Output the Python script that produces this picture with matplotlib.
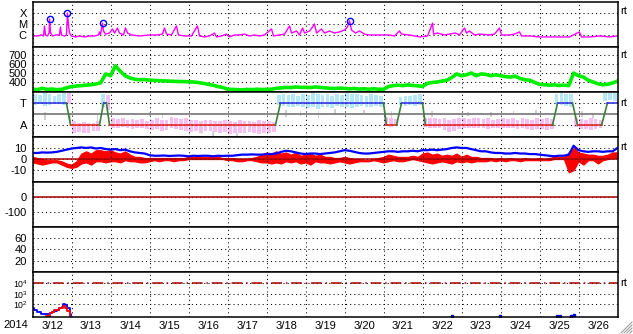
import numpy as np
import matplotlib
matplotlib.use('Agg')
import matplotlib.pyplot as plt
from matplotlib.lines import Line2D

plt.rcParams['font.family'] = ['Liberation Sans', 'DejaVu Sans']
plt.rcParams['mathtext.fontset'] = 'custom'
plt.rcParams['mathtext.rm'] = 'Liberation Sans'
plt.rcParams['mathtext.it'] = 'Liberation Sans'
plt.rcParams['font.size'] = 8

# all times are hours since 2014-03-12 00:00 UT
day_labels = ['3/12', '3/13', '3/14', '3/15', '3/16', '3/17', '3/18', '3/19',
              '3/20', '3/21', '3/22', '3/23', '3/24', '3/25', '3/26']

# --- X-ray flux (W/m2)
xray_hours = [0, 3.1, 5.5, 6.8, 7.4, 8.0, 9.2, 10.2, 10.5, 11.1, 12.3, 14.2, 16.6, 17.2, 17.8,
              19.7, 20.9, 21.5, 22.2, 22.8, 24, 26.5, 28.9, 32, 35.1, 38.2, 40.6, 41.2, 41.8,
              43.1, 43.7, 44.9, 47.4, 49.2, 50.5, 52.3, 53.5, 56, 57.2, 58.5, 60.9, 65.8, 72,
              76.9, 80, 81.2, 82.5, 85.5, 88.6, 89.8, 93.5, 97.8, 101.5, 102.8, 105.8, 108.9,
              112, 113.2, 116.3, 119.4, 121.2, 124.3, 127.4, 130.5, 133.5, 136.6, 139.7, 142.8,
              147.1, 148.3, 152, 155.1, 158.2, 159.4, 162.5, 164.3, 166.2, 167.4, 170.5, 172.3,
              173.5, 174.8, 177.8, 179.7, 182.8, 185.8, 188.9, 192, 193.8, 195.1, 196.3, 198.8,
              201.2, 204.3, 207.4, 213.5, 219.7, 222.8, 225.8, 227.1, 232, 235.1, 238.2, 243.1,
              246.2, 246.8, 249.2, 253.5, 256.6, 260.3, 262.8, 265.8, 267.1, 268.9, 272, 275.1,
              281.2, 284.3, 287.4, 288.6, 293.5, 296.6, 299.7, 300.9, 305.8, 312, 318.2, 324.3,
              330.5, 336.6, 337.8, 342.8, 348.9, 355.1, 360]
xray_flux = [8.1e-7, 8.1e-7, 1.0e-6, 8.1e-7, 6.6e-6, 1.0e-6, 8.1e-7, 1.5e-6, 2.8e-5, 1.5e-6,
             8.1e-7, 1.0e-6, 1.0e-6, 5.3e-6, 1.0e-6, 8.1e-7, 1.0e-6, 1.0e-4, 6.6e-6, 1.5e-6,
             8.1e-7, 6.6e-7, 8.1e-7, 6.6e-7, 8.1e-7, 8.1e-7, 1.0e-6, 1.9e-6, 1.0e-6, 1.2e-5,
             2.3e-6, 1.2e-6, 1.5e-6, 3.5e-6, 1.5e-6, 4.3e-6, 1.5e-6, 1.0e-6, 4.3e-6, 1.5e-6,
             1.0e-6, 8.1e-7, 1.0e-6, 1.0e-6, 1.2e-6, 4.3e-6, 1.2e-6, 1.0e-6, 6.6e-6, 1.0e-6,
             8.1e-7, 8.1e-7, 6.6e-6, 8.1e-7, 6.6e-7, 8.1e-7, 1.5e-6, 6.6e-7, 8.1e-7, 1.2e-6,
             6.6e-7, 1.0e-6, 1.0e-6, 1.2e-6, 8.1e-7, 1.0e-6, 8.1e-7, 1.0e-6, 3.5e-6, 8.1e-7,
             1.0e-6, 1.2e-6, 6.6e-6, 1.5e-6, 2.3e-6, 1.0e-6, 4.3e-6, 1.5e-6, 2.3e-6, 5.3e-6,
             1.0e-5, 1.5e-6, 3.5e-6, 1.5e-6, 2.3e-6, 1.5e-6, 1.9e-6, 2.8e-6, 5.3e-6, 1.9e-5,
             2.8e-6, 1.5e-6, 2.3e-6, 1.2e-6, 1.0e-6, 1.0e-6, 1.0e-6, 8.1e-7, 2.3e-6, 1.2e-6,
             1.0e-6, 8.1e-7, 6.6e-7, 8.1e-7, 1.2e-5, 1.2e-6, 1.5e-6, 1.0e-6, 1.2e-6, 1.5e-6,
             1.0e-6, 4.3e-6, 1.5e-6, 2.3e-6, 1.0e-6, 1.2e-6, 1.0e-6, 1.2e-6, 4.3e-6, 1.0e-6,
             1.0e-6, 1.2e-6, 1.9e-6, 8.1e-7, 8.1e-7, 6.6e-7, 6.6e-7, 6.6e-7, 6.6e-7, 1.9e-6,
             6.6e-7, 6.6e-7, 8.1e-7, 6.6e-7, 8.1e-7]
flare_hours = [10.5, 21.5, 43.1, 195.1]
flare_flux = [2.8e-5, 1.0e-4, 1.2e-5, 1.9e-5]

# --- solar wind speed (km/s), every 3 hours
speed = [320, 315, 330, 318, 322, 315, 318, 335,
         350, 355, 360, 365, 370, 378, 392, 490,
         470, 580, 520, 470, 445, 430, 425, 428,
         420, 418, 415, 412, 410, 408, 405, 405,
         402, 400, 395, 385, 375, 365, 350, 340,
         320, 318, 315, 312, 318, 315, 320, 316,
         318, 320, 330, 335, 340, 338, 345, 340,
         342, 338, 345, 340, 335, 330, 328, 332,
         330, 325, 328, 322, 325, 320, 325, 320,
         318, 350, 360, 365, 360, 368, 362, 358,
         350, 385, 395, 400, 410, 420, 450, 490,
         470, 480, 500, 470, 490, 485, 470, 480,
         470, 460, 455, 465, 440, 425, 420, 395,
         375, 370, 365, 368, 362, 365, 360, 500,
         470, 455, 420, 400, 380, 370, 375, 390,
         410]

# --- IMF sector (T = toward, A = away) and field angle phi (deg)
sector_hours = [0, 20.9, 23.4, 41.2, 43.7, 45.5, 47.4, 149.5, 152.6, 216, 217.8, 224, 227.1,
                240, 241.8, 320, 323.1, 332.3, 335.4, 350.2, 353.8, 360]
sector_side = ['T', 'T', 'A', 'A', 'T', 'T', 'A', 'A', 'T', 'T', 'A', 'A', 'T',
               'T', 'A', 'A', 'T', 'T', 'A', 'A', 'T', 'T']
phi_hi = [390, 380, 395, 385, 370, 390, 400, 400,
          165, 150, 160, 155, 150, 170, 390, 380,
          190, 185, 190, 180, 185, 175, 185, 170,
          180, 190, 175, 180, 200, 190, 185, 195,
          180, 175, 170, 180, 175, 170, 165, 175,
          170, 160, 175, 165, 170, 160, 175, 165,
          170, 160, 380, 390, 380, 385, 375, 390,
          380, 395, 385, 380, 390, 375, 385, 380,
          395, 390, 385, 380, 370, 385, 380, 375,
          200, 190, 185, 360, 370, 375, 380, 385,
          195, 195, 190, 185, 190, 180, 185, 190,
          190, 185, 190, 195, 185, 190, 180, 185,
          190, 185, 195, 180, 190, 185, 180, 190,
          185, 190, 185, 390, 400, 390, 385, 190,
          185, 180, 190, 185, 180, 395, 400, 400]
phi_lo = [300, 305, 290, 300, 310, 305, 300, 310,
          70, 80, 75, 70, 85, 90, 280, 260,
          110, 115, 120, 110, 105, 110, 115, 100,
          95, 100, 90, 95, 110, 100, 95, 90,
          80, 85, 70, 90, 85, 80, 75, 80,
          65, 70, 75, 70, 80, 70, 65, 70,
          70, 80, 300, 290, 280, 285, 290, 280,
          275, 280, 270, 285, 280, 275, 290, 285,
          280, 275, 285, 290, 280, 285, 290, 280,
          130, 120, 125, 300, 290, 300, 290, 295,
          120, 110, 115, 110, 95, 80, 90, 100,
          110, 115, 110, 115, 110, 105, 110, 115,
          110, 110, 115, 105, 110, 100, 95, 105,
          100, 95, 100, 310, 300, 290, 280, 120,
          105, 100, 95, 100, 110, 330, 340, 330]
gray_hours = [7.5, 23, 40, 72, 80, 104, 111, 126, 156, 165, 176, 186, 204, 217, 221,
              246, 268, 282, 296, 310, 338, 345]
gray_lo = [180, 150, 130, 210, 190, 60, 50, 40, 200, 210, 190, 220, 230, 180, 190,
           200, 210, 200, 220, 230, 200, 190]
gray_hi = [240, 230, 220, 240, 230, 100, 90, 70, 260, 250, 250, 270, 260, 240, 250,
           250, 240, 240, 250, 260, 250, 230]

# --- IMF Bt and Bz (nT), every 3 hours
bt = [5.5, 5.5, 6, 5.8, 6, 6.5, 7.5, 8.5,
      9.5, 10, 10.5, 10, 10.5, 9.5, 10, 9,
      8.5, 9, 8, 8.5, 7, 6, 5.5, 5,
      3.5, 3, 3, 3.2, 2.8, 3, 3.2, 3,
      2.5, 3, 2.8, 3, 3, 2.5, 3, 2.8,
      3, 3, 3.5, 4, 4, 4.2, 4, 4,
      4.5, 4.5, 5, 6.5, 7.5, 7, 6, 5,
      4.5, 5, 5, 4.5, 5, 5.5, 6, 7,
      8, 7.5, 6.5, 5.5, 5, 5, 5.5, 6,
      6.5, 7, 7, 6.5, 7, 7, 7.5, 7,
      8, 8, 8.5, 8, 8.5, 9, 10, 10.5,
      10, 10, 9, 8, 7, 7, 6, 5.5,
      5.5, 5, 5, 5.5, 5, 5, 4.5, 4.5,
      4, 3.5, 3, 2.5, 3, 3, 4, 12,
      8, 7, 6.5, 7, 7, 6.5, 7, 7,
      10]
bz_hi = [2, 1, 0, -1, -1, -1, -2, -4,
         -5, -2, 5, 7, 5, 8, 8, 7,
         8, 6, 5, 7, 4, 2, 2, 1,
         1, 1, 1, 1, 1, 1, 1, 1,
         2, 2, 2, 2, 2, 2, 2, 1,
         1, 1, 0, 0, 0, 1, 2, 4,
         6, 5, 7, 5, 6, 4, 6, 3,
         4, 5, 3, 4, 2, 2, 1, 1,
         2, 1, 0, 0, -1, -1, 0, 1,
         2, 4, 3, 2, 2, 2, 3, 2,
         5, 6, 4, 5, 3, 4, 3, 5,
         2, 4, 2, 2, 1, 1, 1, 0,
         1, 0, 1, 0, 0, 1, 0, 0,
         1, 0, 1, 2, 2, 2, 6, 10,
         6, 5, 4, 4, 3, 3, 4, 6,
         6]
bz_lo = [-3, -4, -5, -4, -3, -3, -5, -7,
         -8, -7, -4, -3, -5, -2, -2, -3,
         -2, -2, -3, -1, -2, -2, -3, -3,
         -2, -1, -2, -1, -1, -2, -1, -1,
         0, 0, 0, 0, 0, 0, 0, 0,
         -1, -1, -2, -2, -1, -1, -2, -3,
         -3, -4, -3, -4, -2, -3, -2, -4,
         -3, -5, -2, -3, -3, -4, -3, -2,
         -3, -4, -3, -2, -2, -2, -1, -2,
         -3, -2, -1, -2, -2, -1, 0, -1,
         -2, -3, -4, -3, -2, -3, -4, -2,
         -3, -2, -3, -2, -2, -2, -1, -2,
         -1, -2, -1, -1, -2, -1, -1, -1,
         -1, -1, -1, 0, 0, 0, -12, -10,
         -2, -5, -1, -1, -4, -1, 0, 1,
         1]

# --- particle flux (only the first day has data)
proton_hours = [0, 1.2, 2.5, 4, 5.5, 8, 10.5, 12, 13.5, 15, 16.6, 18, 18.5, 19.7, 20.3, 21.5, 22.8, 23.4]
proton_flux = [48, 28, 19, 18, 13, 12, 14, 20, 24, 30, 40, 60, 110, 100, 80, 40, 12, 7]
electron_hours = [8.6, 10.5, 12, 13.5, 15, 16.6, 18.5, 19.7, 20.3, 21.5, 22.8]
electron_flux = [8, 14, 18, 26, 30, 40, 75, 50, 45, 25, 8]
blip_hours = [258, 287.5, 322.5, 324.5, 331.5, 333]
blip_flux = [7.6, 7.6, 7.6, 7.6, 8.5, 9]

step_hours = np.arange(0, 361, 3)
DOT = (0, (1, 3))

fig = plt.figure(figsize=(6.33, 3.34), dpi=100)
W, H = 633, 334
left, right = 32.5 / W, 617.5 / W
top_px, bot_px = 2.0, 316.7
ph = (bot_px - top_px) / 7
axes = []
for i in range(7):
    y0 = 1 - (top_px + (i + 1) * ph) / H
    ax = fig.add_axes([left, y0, right - left, ph / H])
    ax.set_xlim(0, 360)
    ax.set_xticks(np.arange(0, 361, 24))
    ax.set_xticklabels([])
    ax.grid(axis='both', color='black', linestyle=DOT, linewidth=0.75)
    ax.tick_params(length=0, labelsize=8, pad=4)
    for s in ax.spines.values():
        s.set_linewidth(1.1)
    axes.append(ax)

# panel 1: X-ray
ax = axes[0]
ax.set_yscale('log')
ax.plot(xray_hours, xray_flux, color='#ff00ff', lw=1)
ax.plot(flare_hours, flare_flux, 'o', ms=4.5, mfc='none', mec='#0000ff', mew=1)
ax.set_ylim(8.1e-8, 1e-3)
ax.set_yticks([1e-4, 1e-5, 1e-6])
ax.set_yticklabels(['X', 'M', 'C'])
ax.minorticks_off()

# panel 2: speed
ax = axes[1]
ax.plot(step_hours, speed, color='#00ee00', lw=2.6)
ax.set_ylim(290, 790)
ax.set_yticks([700, 600, 500, 400])
ax.set_yticklabels(['700', '600', '500', '400'])

# panel 3: sector
ax = axes[2]
t_val, a_val = 315, 135
side_num = np.array([1.0 if s == 'T' else 0.0 for s in sector_side])
centers = step_hours[:-1] + 1.5
in_t = np.interp(centers, sector_hours, side_num) > 0.5
lo = np.array(phi_lo)
hi = np.array(phi_hi)
ax.bar(centers[in_t], hi[in_t] - lo[in_t], bottom=lo[in_t], width=2.3, color='#b4e8f8', lw=0)
ax.bar(centers[~in_t], hi[~in_t] - lo[~in_t], bottom=lo[~in_t], width=2.3, color='#f6bef2', lw=0)
ax.bar(gray_hours, np.array(gray_hi) - np.array(gray_lo), bottom=gray_lo, width=1.0,
       color='#d0d0d0', lw=0)
ax.axhline((t_val + a_val) / 2, color='#808080', lw=1.3)
for k in range(len(sector_hours) - 1):
    s0, s1 = sector_side[k], sector_side[k + 1]
    y0 = t_val if s0 == 'T' else a_val
    y1 = t_val if s1 == 'T' else a_val
    if s0 != s1:
        c = '#3a803a'
    elif s0 == 'T':
        c = '#3838e8'
    else:
        c = '#e82828'
    ax.plot(sector_hours[k:k + 2], [y0, y1], color=c, lw=1.2)
ax.set_ylim(40, 405)
ax.set_yticks([t_val, a_val])
ax.set_yticklabels(['T', 'A'])

# panel 4: Bt / Bz
ax = axes[3]
ax.plot(step_hours, bt, color='#0000ff', lw=1.6)
ax.fill_between(step_hours, bz_lo, bz_hi, color='#ff0000', lw=0.8, edgecolor='#ff0000')
ax.axhline(0, color='#aa0000', lw=1.1)
ax.set_ylim(-20.5, 20)
ax.set_yticks([10, 0, -10])
ax.set_yticklabels(['10', '0', '-10'])

# panel 5: empty index
ax = axes[4]
ax.axhline(0, color='#aa0000', lw=1.1)
ax.set_ylim(-200, 100)
ax.set_yticks([0, -100])
ax.set_yticklabels(['0', '-100'])

# panel 6: empty
ax = axes[5]
ax.set_ylim(0, 80)
ax.set_yticks([60, 40, 20])
ax.set_yticklabels(['60', '40', '20'])

# panel 7: particles
ax = axes[6]
ax.set_yscale('log')
ax.step(proton_hours, proton_flux, where='post', color='#0000ff', lw=1.3)
ax.step(electron_hours, electron_flux, where='post', color='#ff0000', lw=1.3)
ax.plot(blip_hours, blip_flux, 's', ms=1.8, color='#0000ff')
ax.axhline(1e4, color='#aa0000', lw=1.1, linestyle=(0, (7, 2.5, 1, 2.5)))
ax.set_ylim(6.6, 1.23e5)
ax.set_yticks([1e4, 1e3, 1e2])
ax.set_yticklabels([r'$\mathregular{10^4}$', r'$\mathregular{10^3}$', r'$\mathregular{10^2}$'])
ax.tick_params(axis='y', labelsize=6.3, pad=3)
ax.minorticks_off()
ax.set_xticks(np.arange(12, 360, 24), minor=True)
ax.set_xticklabels(day_labels, minor=True)
ax.tick_params(axis='x', which='minor', length=0, pad=3, labelsize=8)
ax.grid(axis='x', which='minor', visible=False)

fig.text(16 / W, 1 - 325 / H, '2014', ha='center', va='center', fontsize=8)
for py in [11, 55, 103, 147, 283]:
    fig.text(620 / W, 1 - py / H, 'rt', ha='left', va='center', fontsize=8)

# size grip in the corner
for k in range(4):
    d = 3 * k
    fig.add_artist(Line2D([(621 + d) / W, 632 / W], [1 - 333 / H, 1 - (333 - 11 + d) / H],
                          transform=fig.transFigure, color='#a0a0a0', lw=0.8))

fig.savefig('out.png', dpi=100)
